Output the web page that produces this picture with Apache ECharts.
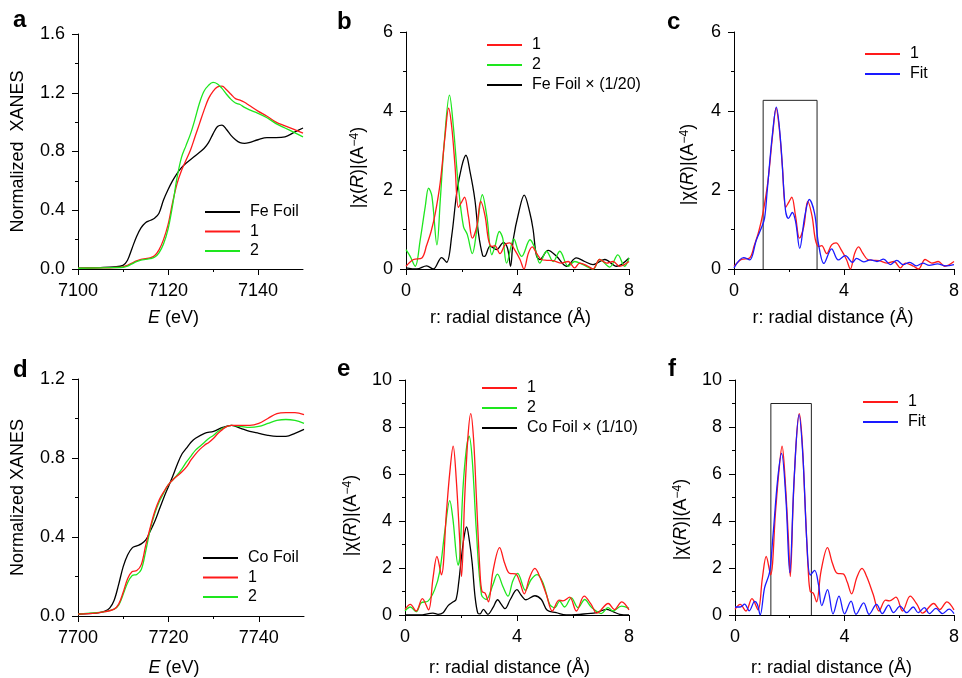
<!DOCTYPE html>
<html>
<head>
<meta charset="utf-8">
<script src="https://cdn.jsdelivr.net/npm/echarts@6/dist/echarts.min.js"></script>
<style>html,body{margin:0;padding:0;background:#fff}#chart{width:962px;height:678px}</style>
</head>
<body>
<div id="chart"></div>
<script>
// ---------- DATA ----------
// Panel a: Fe K-edge XANES  [E (eV), normalized absorption]
const aFeFoil = [[7100,0.005],[7105,0.01],[7108,0.015],[7110,0.025],[7111,0.06],[7112,0.14],[7113,0.22],[7114,0.28],[7115,0.315],[7116,0.33],[7117,0.345],[7118,0.38],[7119,0.47],[7120,0.54],[7121,0.6],[7122,0.65],[7123,0.69],[7124,0.72],[7126,0.77],[7128,0.82],[7129,0.86],[7130,0.92],[7131,0.97],[7132,0.98],[7133,0.95],[7134,0.91],[7135,0.88],[7136,0.86],[7137,0.855],[7138,0.86],[7140,0.88],[7142,0.895],[7144,0.895],[7146,0.9],[7148,0.93],[7150,0.96]];
const aSample1 = [[7100,0.005],[7105,0.008],[7108,0.01],[7110,0.015],[7111,0.025],[7112,0.04],[7113,0.055],[7114,0.065],[7115,0.07],[7116,0.075],[7117,0.09],[7118,0.13],[7119,0.2],[7120,0.3],[7121,0.45],[7122,0.58],[7123,0.67],[7124,0.74],[7125,0.81],[7126,0.9],[7127,0.99],[7128,1.08],[7129,1.16],[7130,1.21],[7131,1.24],[7132,1.245],[7133,1.22],[7134,1.19],[7135,1.16],[7136,1.15],[7137,1.135],[7138,1.115],[7140,1.075],[7142,1.04],[7144,1.0],[7146,0.975],[7148,0.95],[7150,0.925]];
const aSample2 = [[7100,0.005],[7108,0.01],[7110,0.012],[7111,0.02],[7112,0.035],[7113,0.05],[7114,0.06],[7115,0.065],[7116,0.07],[7117,0.08],[7118,0.11],[7119,0.17],[7120,0.27],[7121,0.43],[7122,0.62],[7123,0.76],[7124,0.84],[7125,0.92],[7126,1.02],[7127,1.13],[7128,1.21],[7129,1.25],[7130,1.27],[7131,1.26],[7132,1.23],[7133,1.19],[7134,1.155],[7135,1.13],[7136,1.12],[7137,1.1],[7138,1.085],[7140,1.06],[7142,1.03],[7144,0.99],[7146,0.96],[7148,0.93],[7150,0.9]];

// Panel b/c: Fe FT-EXAFS  [r (Å), |χ(R)|]
const bSample1 = [[0,0.07],[0.27,0.24],[0.57,0.28],[0.74,0.6],[0.9,0.95],[1.05,1.41],[1.23,2.2],[1.41,3.43],[1.53,4.07],[1.64,3.6],[1.76,2.6],[1.88,1.56],[2.0,1.7],[2.1,1.82],[2.24,1.33],[2.38,0.78],[2.54,1.08],[2.68,1.71],[2.84,1.33],[2.96,0.74],[3.08,0.57],[3.19,0.59],[3.37,0.39],[3.55,0.61],[3.71,0.66],[3.91,0.47],[4.09,0.24],[4.23,0],[4.39,0.4],[4.53,0.56],[4.68,0.4],[4.86,0.24],[5.05,0.22],[5.28,0.21],[5.58,0.15],[5.82,0.19],[6.05,0.03],[6.23,0.15],[6.53,0.07],[6.71,0],[6.95,0.24],[7.19,0.15],[7.43,0.19],[7.66,0.07],[8.0,0.19]];
const bSample2 = [[0,0.49],[0.15,0.32],[0.33,0.07],[0.51,0.74],[0.69,1.58],[0.81,2.05],[0.93,1.84],[1.11,0.61],[1.23,1.75],[1.37,3.18],[1.56,4.4],[1.7,3.6],[1.88,2.09],[2.06,1.08],[2.2,0.87],[2.38,0.39],[2.54,0.99],[2.74,1.88],[2.9,1.33],[3.08,0.36],[3.19,0.57],[3.35,0.95],[3.47,0.78],[3.61,0.15],[3.87,0.76],[4.03,0.45],[4.15,0.32],[4.45,0.74],[4.62,0.53],[4.8,0.15],[5.04,0.45],[5.28,0.19],[5.52,0.45],[5.82,0.07],[6.05,0.19],[6.35,0.11],[6.71,0],[6.95,0.24],[7.31,0.05],[7.6,0.36],[7.84,0.07],[8,0.28]];
const bFeFoil = [[0,0.03],[0.39,0],[0.74,0.08],[0.98,0],[1.28,0.29],[1.46,0.17],[1.64,0.84],[1.82,1.93],[2.0,2.6],[2.15,2.88],[2.3,2.45],[2.47,1.76],[2.6,0.9],[2.75,0.34],[2.82,0.32],[3.02,0.58],[3.25,0.49],[3.49,0.67],[3.64,0.53],[3.75,0.07],[3.85,0.76],[4.05,1.45],[4.24,1.87],[4.44,1.43],[4.56,1.0],[4.68,0.34],[4.8,0.24],[5.1,0.47],[5.4,0.32],[5.76,0.07],[6.11,0.28],[6.41,0.19],[6.71,0.11],[7.13,0.24],[7.55,0.07],[8,0.28]];
const cFit = [[0,0.03],[0.35,0.29],[0.57,0.23],[0.81,0.73],[0.99,1.03],[1.11,1.28],[1.21,2.0],[1.39,3.36],[1.54,4.1],[1.69,3.28],[1.87,1.5],[1.98,1.28],[2.12,1.43],[2.24,1.2],[2.39,0.52],[2.57,1.32],[2.74,1.76],[2.93,1.41],[3.07,0.65],[3.27,0.14],[3.55,0.51],[3.79,0.23],[4.05,0.34],[4.31,0.17],[4.46,0.27],[4.72,0.18],[4.96,0.23],[5.2,0.19],[5.44,0.25],[5.68,0.11],[5.92,0.22],[6.15,0.11],[6.39,0.17],[6.63,0.08],[6.87,0.15],[7.1,0.09],[7.4,0.13],[7.7,0.08],[8,0.11]];
const cWindowR = [1.06, 3.02];
const cWindowTop = 4.27;

// Panel d: Co K-edge XANES
const dCoFoil = [[7700,0.01],[7704,0.015],[7706,0.025],[7707,0.04],[7708,0.08],[7709,0.16],[7710,0.25],[7711,0.31],[7712,0.345],[7713,0.355],[7714,0.365],[7715,0.385],[7716,0.43],[7717,0.48],[7718,0.54],[7719,0.6],[7720,0.655],[7721,0.71],[7722,0.77],[7723,0.82],[7724,0.85],[7725,0.88],[7726,0.9],[7728,0.925],[7730,0.935],[7732,0.955],[7734,0.965],[7736,0.95],[7738,0.935],[7740,0.925],[7742,0.915],[7744,0.91],[7746,0.91],[7748,0.925],[7750,0.945]];
const dSample1 = [[7700,0.01],[7704,0.015],[7706,0.022],[7708,0.035],[7709,0.06],[7710,0.12],[7711,0.19],[7712,0.225],[7713,0.23],[7714,0.26],[7715,0.36],[7716,0.45],[7717,0.53],[7718,0.59],[7719,0.63],[7720,0.665],[7721,0.69],[7722,0.71],[7723,0.73],[7724,0.755],[7725,0.79],[7726,0.82],[7727,0.845],[7728,0.865],[7729,0.88],[7730,0.9],[7731,0.925],[7732,0.945],[7733,0.96],[7734,0.965],[7736,0.965],[7738,0.965],[7740,0.975],[7742,1.0],[7744,1.025],[7746,1.03],[7748,1.03],[7750,1.02]];
const dSample2 = [[7700,0.01],[7706,0.022],[7708,0.035],[7709,0.055],[7710,0.11],[7711,0.17],[7712,0.205],[7713,0.21],[7714,0.235],[7715,0.33],[7716,0.44],[7717,0.52],[7718,0.58],[7719,0.625],[7720,0.665],[7721,0.69],[7722,0.715],[7723,0.745],[7724,0.78],[7725,0.81],[7726,0.84],[7727,0.86],[7728,0.88],[7729,0.9],[7730,0.915],[7731,0.935],[7732,0.95],[7733,0.96],[7734,0.965],[7736,0.96],[7738,0.955],[7740,0.96],[7742,0.975],[7744,0.99],[7746,0.995],[7748,0.99],[7750,0.975]];

// Panel e/f: Co FT-EXAFS
const eSample1 = [[0,0.24],[0.19,0.45],[0.4,0.17],[0.62,0.7],[0.84,0.22],[1.0,1.57],[1.14,2.49],[1.3,1.71],[1.48,4.38],[1.6,6.07],[1.72,7.19],[1.83,5.79],[1.95,3.26],[2.02,1.64],[2.13,4.94],[2.25,7.61],[2.35,8.57],[2.45,7.47],[2.55,5.0],[2.68,1.8],[2.75,1.0],[2.86,0.93],[2.98,0.56],[3.14,1.85],[3.38,2.87],[3.56,2.2],[3.74,1.77],[3.95,1.75],[4.1,1.4],[4.26,0.9],[4.45,1.6],[4.64,1.98],[4.81,1.64],[5.05,0.87],[5.26,0.17],[5.5,0.63],[5.64,0.6],[5.88,0.76],[6.12,0.17],[6.4,0.8],[6.65,0.45],[6.85,0.08],[7.26,0.49],[7.48,0.23],[7.74,0.56],[8,0.22]];
const eSample2 = [[0,0.17],[0.19,0.34],[0.4,0.14],[0.58,0.52],[0.82,0.59],[1.06,1.08],[1.24,1.85],[1.42,3.54],[1.6,4.87],[1.71,4.1],[1.9,2.12],[1.96,2.5],[2.07,5.37],[2.19,7.05],[2.29,7.61],[2.4,6.63],[2.55,3.54],[2.73,0.87],[2.9,0.66],[3.14,1.29],[3.3,1.74],[3.5,1.2],[3.68,0.8],[3.85,1.45],[4.02,1.77],[4.3,1.05],[4.5,1.5],[4.72,1.72],[4.93,1.36],[5.17,0.45],[5.35,0.31],[5.52,0.59],[5.7,0.34],[5.94,0.73],[6.18,0.31],[6.42,0.66],[6.65,0.34],[7.01,0.06],[7.25,0.31],[7.43,0.17],[7.73,0.38],[8,0.28]];
const eCoFoil = [[0,0],[0.52,0],[1.0,0.08],[1.18,0.03],[1.36,0.1],[1.54,0.4],[1.71,0.55],[1.82,0.65],[1.92,1.4],[2.02,2.5],[2.12,3.4],[2.2,3.75],[2.3,3.15],[2.4,2.2],[2.5,0.8],[2.6,0.08],[2.68,0.05],[2.8,0.24],[2.96,0.03],[3.14,0.31],[3.31,0.65],[3.44,0.45],[3.57,0.27],[3.76,0.66],[4.0,1.08],[4.15,0.84],[4.32,0.65],[4.64,0.82],[4.87,0.66],[5.08,0.2],[5.4,0.1],[5.76,0],[6.24,0.03],[6.83,0.1],[7.19,0.24],[7.43,0.14],[7.67,0.03],[8,0]];
const fFit = [[0,0.34],[0.19,0.34],[0.35,0.46],[0.52,0.18],[0.72,0.58],[0.82,0.45],[0.92,0],[1.08,1.15],[1.26,1.8],[1.38,3.26],[1.56,5.79],[1.7,6.88],[1.86,4.94],[2.0,1.8],[2.16,5.79],[2.34,8.53],[2.48,6.77],[2.63,2.98],[2.75,1.7],[2.91,1.9],[3.05,1.29],[3.17,0.4],[3.38,1.08],[3.58,0.05],[3.8,0.8],[4.0,0.05],[4.24,0.59],[4.42,0.03],[4.7,0.52],[4.9,0.03],[5.17,0.45],[5.38,0.06],[5.61,0.42],[5.79,0.1],[6.03,0.38],[6.27,0.1],[6.51,0.34],[6.69,0.1],[6.92,0.31],[7.1,0.06],[7.34,0.28],[7.58,0.06],[7.82,0.25],[8,0.06]];
const fWindowR = [1.31, 2.79];
const fWindowTop = 9.0;

// Tick positions
const aXMajor = [7100, 7120, 7140];
const aXMinor = [7110, 7130];
const dXMajor = [7700, 7720, 7740];
const dXMinor = [7710, 7730];

// ---------- CHART ----------
const FONT = "'Liberation Sans', Arial, Helvetica, sans-serif";
const RED = '#ff1a1a', GREEN = '#1ee61e', BLACK = '#000000', BLUE = '#1a1aff';

const grids = [
  {left:78, top:34, width:225, height:235},
  {left:406, top:32, width:223, height:237},
  {left:734, top:32, width:224, height:237},
  {left:78, top:379, width:226, height:238},
  {left:405, top:380, width:224, height:237},
  {left:735, top:380, width:223, height:237}
];

const lineStyleAxis = {color:'#000', width:1};
const baseLabel = {fontSize:18, color:'#000', fontFamily:FONT};
const nameStyle = (pad) => ({fontSize:18, color:'#000', fontFamily:FONT, padding:pad,
  rich:{ i:{fontStyle:'italic', fontSize:18, fontFamily:FONT, color:'#000'},
         s:{fontSize:12, fontFamily:FONT, color:'#000', verticalAlign:'top', lineHeight:12} }});

function xValueAxis(gridIndex, min, max, interval, name, namePad, nameGap) {
  return {type:'value', gridIndex, min, max, interval, position:'bottom',
    name, nameLocation:'middle', nameGap, nameTextStyle:nameStyle(namePad),
    axisLine:{show:true, onZero:false, lineStyle:lineStyleAxis},
    axisTick:{show:true, inside:false, length:6, lineStyle:lineStyleAxis},
    minorTick:{show:true, splitNumber:2, length:3, lineStyle:lineStyleAxis},
    splitLine:{show:false}, minorSplitLine:{show:false},
    axisLabel:Object.assign({margin:13, formatter:(v)=>String(v)}, baseLabel)};
}
function xEnergyAxis(gridIndex, min, max, major, name, namePad, nameGap) {
  return {type:'value', gridIndex, min, max, interval:10, position:'bottom',
    name, nameLocation:'middle', nameGap, nameTextStyle:nameStyle(namePad),
    axisLine:{show:true, onZero:false, lineStyle:lineStyleAxis},
    axisTick:{show:true, inside:false, length:6, lineStyle:lineStyleAxis, customValues:major},
    splitLine:{show:false},
    axisLabel:Object.assign({margin:13, customValues:major, formatter:(v)=>String(v)}, baseLabel)};
}
function xMinorOverlay(gridIndex, min, max, minor) {
  return {type:'value', gridIndex, min, max, interval:10, position:'bottom',
    axisLine:{show:false}, splitLine:{show:false},
    axisTick:{show:true, inside:false, length:3, lineStyle:lineStyleAxis, customValues:minor},
    axisLabel:{show:false}};
}
function yValueAxis(gridIndex, min, max, interval, name, namePad, nameGap, dec) {
  return {type:'value', gridIndex, min, max, interval,
    name, nameLocation:'middle', nameGap, nameTextStyle:nameStyle(namePad),
    axisLine:{show:true, onZero:false, lineStyle:lineStyleAxis},
    axisTick:{show:true, inside:false, length:6, lineStyle:lineStyleAxis},
    minorTick:{show:true, splitNumber:2, length:3, lineStyle:lineStyleAxis},
    splitLine:{show:false}, minorSplitLine:{show:false},
    axisLabel:Object.assign({margin:13, formatter:(v)=>v.toFixed(dec)}, baseLabel)};
}

const chiName = '|χ({i|R})|(A{s|−4})';
const rName = 'r: radial distance (Å)';

const xAxis = [
  xEnergyAxis(0, 7100, 7150, aXMajor, '{i|E} (eV)', [0,34,0,0], 40),   // 0
  xMinorOverlay(0, 7100, 7150, aXMinor),                               // 1
  xValueAxis(1, 0, 8, 4, rName, [0,14,0,0], 40),                        // 2
  xValueAxis(2, 0, 8, 4, rName, [0,22,0,0], 40),                        // 3
  xEnergyAxis(3, 7700, 7750, dXMajor, '{i|E} (eV)', [0,34,0,0], 43),   // 4
  xMinorOverlay(3, 7700, 7750, dXMinor),                               // 5
  xValueAxis(4, 0, 8, 4, rName, [0,15,0,0], 44),                        // 6
  xValueAxis(5, 0, 8, 4, rName, [0,26,0,0], 44)                         // 7
];
const yAxis = [
  yValueAxis(0, 0, 1.6, 0.4, 'Normalized  XANES', 0, 51, 1),
  yValueAxis(1, 0, 6, 2, chiName, [0,34,0,0], 39, 0),
  yValueAxis(2, 0, 6, 2, chiName, [0,28,0,0], 37, 0),
  yValueAxis(3, 0, 1.2, 0.4, 'Normalized XANES', 0, 51, 1),
  yValueAxis(4, 0, 10, 2, chiName, [0,36,0,0], 45, 0),
  yValueAxis(5, 0, 10, 2, chiName, [0,44,0,0], 45, 0)
];

function line(name, data, color, xi, yi) {
  return {type:'line', name, data, xAxisIndex:xi, yAxisIndex:yi, showSymbol:false, symbol:'none',
    smooth:0.35, itemStyle:{color}, lineStyle:{color, width:1.3}, emphasis:{disabled:true}, animation:false, z:3};
}
function windowBox(name, r, top, xi, yi) {
  const data = [[r[0],0],[r[0],top],[r[1],top],[r[1],0]];
  return {type:'line', name, data, xAxisIndex:xi, yAxisIndex:yi, symbol:'none', showSymbol:false,
    itemStyle:{color:'#222'}, lineStyle:{color:'#222', width:1}, animation:false, z:2, emphasis:{disabled:true}};
}

const series = [
  line('Fe Foil', aFeFoil, BLACK, 0, 0),
  line('1', aSample1, RED, 0, 0),
  line('2', aSample2, GREEN, 0, 0),

  line('Fe Foil × (1/20)', bFeFoil, BLACK, 2, 1),
  line('2', bSample2, GREEN, 2, 1),
  line('1', bSample1, RED, 2, 1),

  windowBox('window c', cWindowR, cWindowTop, 3, 2),
  line('1', bSample1, RED, 3, 2),
  line('Fit', cFit, BLUE, 3, 2),

  line('Co Foil', dCoFoil, BLACK, 4, 3),
  line('2', dSample2, GREEN, 4, 3),
  line('1', dSample1, RED, 4, 3),

  line('Co Foil × (1/10)', eCoFoil, BLACK, 6, 4),
  line('2', eSample2, GREEN, 6, 4),
  line('1', eSample1, RED, 6, 4),

  windowBox('window f', fWindowR, fWindowTop, 7, 5),
  line('1', eSample1, RED, 7, 5),
  line('Fit', fFit, BLUE, 7, 5)
];

function legend(names, left, top, gap) {
  return {data:names, orient:'vertical', left, top, padding:0, itemWidth:35, itemHeight:2, itemGap:gap,
    icon:'rect', selectedMode:false,
    textStyle:{fontSize:16, color:'#000', fontFamily:FONT, padding:[0,0,0,5]}};
}
const legendList = [
  legend(['Fe Foil','1','2'], 205, 204, 3.5),
  legend(['1','2','Fe Foil × (1/20)'], 487, 37, 4),
  legend(['1','Fit'], 865, 46, 4),
  legend(['Co Foil','1','2'], 203, 550, 3.5),
  legend(['1','2','Co Foil × (1/10)'], 482, 380, 4),
  legend(['1','Fit'], 863, 394, 4)
];

const panelTitle = (t, left, top) => ({text:t, left, top, padding:0,
  textStyle:{fontSize:24, fontWeight:'bold', color:'#000', fontFamily:FONT}});

const option = {
  backgroundColor:'#fff',
  animation:false,
  title:[panelTitle('a',13,8), panelTitle('b',337,10), panelTitle('c',667,10),
         panelTitle('d',13,358), panelTitle('e',337,357), panelTitle('f',668,357)],
  legend:legendList,
  grid:grids,
  xAxis, yAxis, series
};

const chart = echarts.init(document.getElementById('chart'), null, {renderer:'canvas'});
chart.setOption(option);
</script>
</body>
</html>
